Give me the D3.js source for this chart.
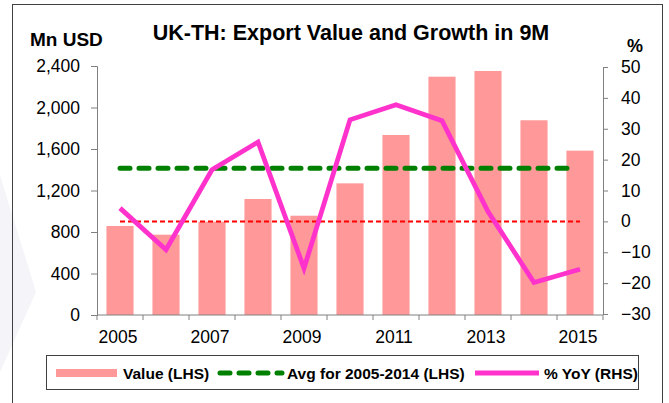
<!DOCTYPE html>
<html>
<head>
<meta charset="utf-8">
<script src="https://cdn.jsdelivr.net/npm/d3@7"></script>
<style>
  html, body { margin: 0; padding: 0; background: #fff; }
  svg { display: block; font-family: "Liberation Sans", Arial, sans-serif; }
</style>
</head>
<body>
<svg id="chart" width="669" height="403"></svg>
<script>
// UK exports to Thailand, first nine months of each year
const years = ["2005","2006","2007","2008","2009","2010","2011","2012","2013","2014","2015"];
const exportValue = [858, 774, 899, 1118, 957, 1269, 1735, 2297, 2352, 1877, 1584]; // Mn USD
const yoyGrowth = [4.3, -9.2, 16.7, 25.7, -15.2, 32.9, 37.8, 32.6, 3.2, -19.8, -15.5]; // %
const avgValue = 1414; // average 2005-2014, Mn USD
const leftTicks = [0, 400, 800, 1200, 1600, 2000, 2400];
const rightTicks = [-30, -20, -10, 0, 10, 20, 30, 40, 50];
const xLabelYears = ["2005","2007","2009","2011","2013","2015"];

const svg = d3.select("#chart");
const plot = { left: 97, right: 603, top: 66, bottom: 315 };

// faint backdrop shape on the left edge
svg.append("polygon")
  .attr("points", "0,175 36,292 0,372")
  .attr("fill", "#f4f4f9");

// outer frame
svg.append("rect")
  .attr("x", 12.5).attr("y", 4.5)
  .attr("width", 650).attr("height", 420)
  .attr("fill", "none").attr("stroke", "#404040").attr("stroke-width", 1);

const xc = d3.scaleBand().domain(years).range([plot.left, plot.right]);
const yL = d3.scaleLinear().domain([0, 2400]).range([plot.bottom, plot.top]);
const yR = d3.scaleLinear().domain([-30, 50]).range([plot.bottom - 1, plot.top + 1]);
const cx = d => xc(d) + xc.bandwidth() / 2;
const barW = xc.bandwidth() * 0.59;

// bars
svg.append("g").selectAll("rect").data(years).join("rect")
  .attr("x", (d) => cx(d) - barW / 2)
  .attr("width", barW)
  .attr("y", (d, i) => yL(exportValue[i]))
  .attr("height", (d, i) => yL(0) - yL(exportValue[i]))
  .attr("fill", "#ff9999");

// zero growth reference (right axis)
svg.append("line")
  .attr("x1", cx("2005")).attr("x2", cx("2015"))
  .attr("y1", yR(0)).attr("y2", yR(0))
  .attr("stroke", "#ff0000").attr("stroke-width", 2)
  .attr("stroke-dasharray", "5,3");

// average line
svg.append("line")
  .attr("x1", cx("2005")).attr("x2", cx("2015") - 6)
  .attr("y1", yL(avgValue)).attr("y2", yL(avgValue))
  .attr("stroke", "#008000").attr("stroke-width", 5)
  .attr("stroke-linecap", "round")
  .attr("stroke-dasharray", "10,9");

// growth line
const line = d3.line().x(d => cx(d[0])).y(d => yR(d[1]));
svg.append("path")
  .datum(years.map((y, i) => [y, yoyGrowth[i]]))
  .attr("d", line)
  .attr("fill", "none").attr("stroke", "#ff33cc")
  .attr("stroke-width", 4.8).attr("stroke-linejoin", "miter");

const axisColor = "#808080";
const tickFont = 17.5;

// left axis
const gL = svg.append("g").attr("transform", `translate(${plot.left},0)`)
  .call(d3.axisLeft(yL).tickValues(leftTicks).tickSize(6).tickPadding(11)
    .tickFormat(d3.format(",")));
// right axis
const gR = svg.append("g").attr("transform", `translate(${plot.right},0)`)
  .call(d3.axisRight(yR).tickValues(rightTicks).tickSize(5).tickPadding(13));
// bottom axis: ticks on category boundaries
const boundaries = years.map(y => xc(y)).concat([plot.right]);
const gB = svg.append("g").attr("transform", `translate(0,${plot.bottom})`);
gB.append("line").attr("x1", plot.left).attr("x2", plot.right)
  .attr("stroke", axisColor);
gB.selectAll("line.tk").data(boundaries).join("line").attr("class", "tk")
  .attr("x1", d => d).attr("x2", d => d).attr("y1", 0).attr("y2", 5)
  .attr("stroke", axisColor);
gB.selectAll("text").data(xLabelYears).join("text")
  .attr("x", d => cx(d) - 2).attr("y", 28)
  .attr("text-anchor", "middle")
  .attr("font-size", tickFont).attr("fill", "#000")
  .text(d => d);

[gL, gR].forEach(g => {
  g.select(".domain").attr("stroke", axisColor);
  g.selectAll(".tick line").attr("stroke", axisColor);
  g.selectAll(".tick text").attr("font-size", tickFont).attr("fill", "#000")
    .attr("font-family", "Liberation Sans, Arial, sans-serif");
});

// titles
svg.append("text").attr("x", 351).attr("y", 40).attr("text-anchor", "middle")
  .attr("font-size", 21.5).attr("font-weight", "bold").text("UK-TH: Export Value and Growth in 9M");
svg.append("text").attr("x", 30).attr("y", 46)
  .attr("font-size", 19).attr("font-weight", "bold").text("Mn USD");
svg.append("text").attr("x", 627).attr("y", 52)
  .attr("font-size", 18).attr("font-weight", "bold").text("%");

// legend
const lg = svg.append("g");
lg.append("rect").attr("x", 46.5).attr("y", 355.5).attr("width", 592).attr("height", 34)
  .attr("fill", "#fff").attr("stroke", "#404040");
lg.append("rect").attr("x", 56).attr("y", 369).attr("width", 61).attr("height", 8).attr("fill", "#ff9999");
lg.append("line").attr("x1", 220).attr("x2", 282).attr("y1", 373).attr("y2", 373)
  .attr("stroke", "#008000").attr("stroke-width", 5).attr("stroke-linecap", "round")
  .attr("stroke-dasharray", "10,9");
lg.append("line").attr("x1", 475).attr("x2", 539).attr("y1", 373).attr("y2", 373)
  .attr("stroke", "#ff33cc").attr("stroke-width", 4.8);
const legendText = [["Value (LHS)", 123], ["Avg for 2005-2014 (LHS)", 287], ["% YoY (RHS)", 544]];
lg.selectAll("text").data(legendText).join("text")
  .attr("x", d => d[1]).attr("y", 379)
  .attr("font-size", 15.5).attr("font-weight", "bold").text(d => d[0]);
</script>
</body>
</html>
